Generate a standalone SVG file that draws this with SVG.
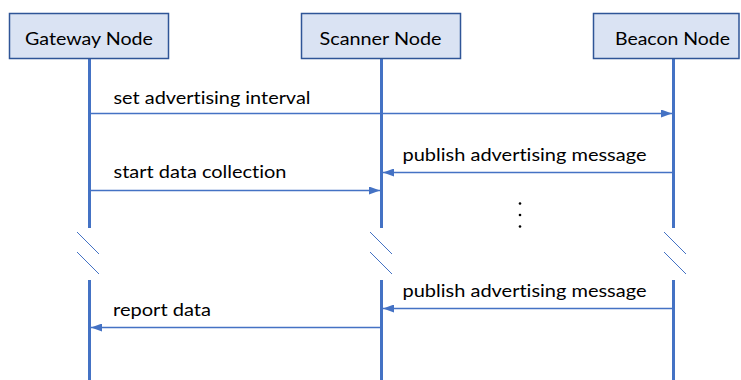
<svg xmlns="http://www.w3.org/2000/svg" width="741" height="380" viewBox="0 0 741 380">
  <style>
    .box { fill: #DAE3F3; stroke: #2F5597; stroke-width: 1.5; }
    .life { stroke: #4472C4; stroke-width: 3; fill: none; }
    .brk { stroke: #4472C4; stroke-width: 1; fill: none; }
    .msg { stroke: #4472C4; stroke-width: 1.5; fill: none; marker-end: url(#arrow); }
    text { font-family: Lato, "Open Sans", "Liberation Sans", sans-serif; font-size: 18px; fill: #000000; font-variant-ligatures: none; }
  </style>
  <defs>
    <marker id="arrow" markerWidth="11" markerHeight="8" refX="11" refY="4" orient="auto" markerUnits="userSpaceOnUse">
      <path d="M0,0 L11,4 L0,8 Z" fill="#4472C4"/>
    </marker>
  </defs>
  <rect width="741" height="380" fill="#FFFFFF"/>

  <!-- lifelines with break marks -->
  <g id="lifelines">
    <line class="life" x1="89.5" y1="59" x2="89.5" y2="228"/>
    <line class="life" x1="89.5" y1="280" x2="89.5" y2="380"/>
    <line class="brk" x1="77" y1="232" x2="99" y2="254"/>
    <line class="brk" x1="77" y1="252" x2="99" y2="274"/>

    <line class="life" x1="381.5" y1="59" x2="381.5" y2="228"/>
    <line class="life" x1="381.5" y1="280" x2="381.5" y2="380"/>
    <line class="brk" x1="370" y1="232" x2="392" y2="254"/>
    <line class="brk" x1="370" y1="252" x2="392" y2="274"/>

    <line class="life" x1="673.5" y1="59" x2="673.5" y2="228"/>
    <line class="life" x1="673.5" y1="280" x2="673.5" y2="380"/>
    <line class="brk" x1="664" y1="232" x2="686" y2="254"/>
    <line class="brk" x1="664" y1="252" x2="686" y2="274"/>
  </g>

  <g id="gateway">
    <rect class="box" x="9.5" y="13.5" width="159" height="45"/>
    <text x="25" y="45" textLength="128" lengthAdjust="spacingAndGlyphs">Gateway Node</text>
  </g>
  <g id="scanner">
    <rect class="box" x="301.5" y="13.5" width="159" height="45"/>
    <text x="319.5" y="45" textLength="122" lengthAdjust="spacingAndGlyphs">Scanner Node</text>
  </g>
  <g id="beacon">
    <rect class="box" x="593.5" y="13.5" width="145.5" height="45"/>
    <text x="615" y="45" textLength="115" lengthAdjust="spacingAndGlyphs">Beacon Node</text>
  </g>

  <g id="connectors">
    <line class="msg" x1="91" y1="113.5" x2="672" y2="113.5"/>
    <line class="msg" x1="672" y1="172.5" x2="383" y2="172.5"/>
    <line class="msg" x1="91" y1="190.5" x2="380" y2="190.5"/>
    <line class="msg" x1="672" y1="308.5" x2="383" y2="308.5"/>
    <line class="msg" x1="380" y1="327.5" x2="91" y2="327.5"/>
  </g>

  <g id="labels">
    <text x="113.5" y="104" textLength="197" lengthAdjust="spacingAndGlyphs">set advertising interval</text>
    <text x="402.5" y="161" textLength="244" lengthAdjust="spacingAndGlyphs">publish advertising message</text>
    <text x="113.5" y="178" textLength="173" lengthAdjust="spacingAndGlyphs">start data collection</text>
    <text x="402.5" y="297" textLength="244" lengthAdjust="spacingAndGlyphs">publish advertising message</text>
    <text x="113" y="315.5" textLength="98" lengthAdjust="spacingAndGlyphs">report data</text>
  </g>

  <g id="ellipsis" fill="#000000">
    <circle cx="520" cy="203.5" r="1.3"/>
    <circle cx="520" cy="215" r="1.3"/>
    <circle cx="520" cy="226.5" r="1.3"/>
  </g>
</svg>
